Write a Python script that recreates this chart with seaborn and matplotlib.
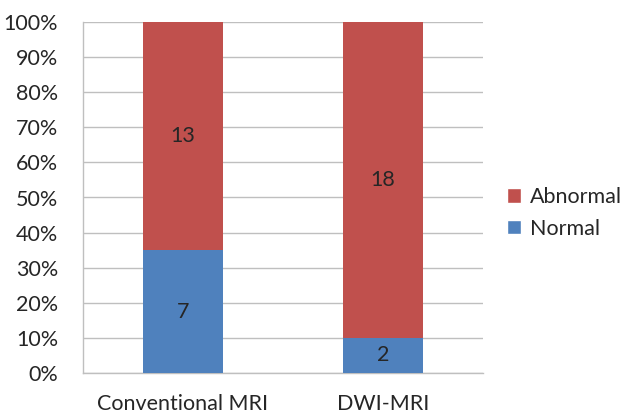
import matplotlib
matplotlib.use("Agg")
import matplotlib.pyplot as plt
from matplotlib.patches import Patch
from matplotlib.ticker import PercentFormatter, FixedLocator
import seaborn as sns
import pandas as pd

# Patient counts per imaging method
methods = ["Conventional MRI", "DWI-MRI"]
normal = [7, 2]
abnormal = [13, 18]

sns.set_style("white")
plt.rcParams["font.family"] = ["Lato", "DejaVu Sans"]

totals = [n + a for n, a in zip(normal, abnormal)]
df = pd.DataFrame({
    "method": methods,
    "normal_pct": [100 * n / t for n, t in zip(normal, totals)],
    "total_pct": [100 * (n + a) / t for n, a, t in zip(normal, abnormal, totals)],
})

blue = "#4F81BD"
red = "#C0504D"
grid = "#BFBFBF"
fs = 15.5

fig = plt.figure(figsize=(6.23, 4.15), dpi=100)
ax = fig.add_axes([83 / 623, 42 / 415, 400 / 623, 351 / 415])

# Stacked bars: full-height abnormal layer, normal layer drawn over it
sns.barplot(data=df, x="method", y="total_pct", color=red, width=0.4,
            saturation=1, ax=ax, zorder=3, linewidth=0, edgecolor="none")
sns.barplot(data=df, x="method", y="normal_pct", color=blue, width=0.4,
            saturation=1, ax=ax, zorder=3, linewidth=0, edgecolor="none")

ax.set_xlim(-0.5, 1.5)
ax.set_ylim(0, 100)
ax.yaxis.set_major_locator(FixedLocator(range(0, 101, 10)))
ax.yaxis.set_major_formatter(PercentFormatter(decimals=0))
ax.grid(axis="y", color=grid, linewidth=1, zorder=0)
ax.set_axisbelow(True)

for s in ["top", "right"]:
    ax.spines[s].set_visible(False)
for s in ["left", "bottom"]:
    ax.spines[s].set_color(grid)
    ax.spines[s].set_linewidth(1)

ax.tick_params(axis="y", length=8, color=grid, width=1, labelsize=fs, pad=10)
ax.tick_params(axis="x", which="major", length=0, labelsize=fs, pad=15)
ax.set_xticks([-0.5, 0.5, 1.5], minor=True)
ax.tick_params(axis="x", which="minor", length=8, color=grid, width=1)
ax.set_xlabel("")
ax.set_ylabel("")

# Count labels centred in each segment
for i in range(len(methods)):
    npct = df["normal_pct"][i]
    tpct = df["total_pct"][i]
    ax.text(i, npct / 2, str(normal[i]), ha="center", va="center", fontsize=fs, zorder=4)
    ax.text(i, npct + (tpct - npct) / 2, str(abnormal[i]), ha="center", va="center",
            fontsize=fs, zorder=4)

handles = [Patch(facecolor=red, label="Abnormal"), Patch(facecolor=blue, label="Normal")]
fig.legend(handles=handles, loc="center left", bbox_to_anchor=(507 / 623, 0.487),
           frameon=False, fontsize=fs, handlelength=0.65, handleheight=0.65,
           handletextpad=0.4, labelspacing=0.55, borderpad=0, borderaxespad=0)

fig.savefig("out.png", dpi=100)
